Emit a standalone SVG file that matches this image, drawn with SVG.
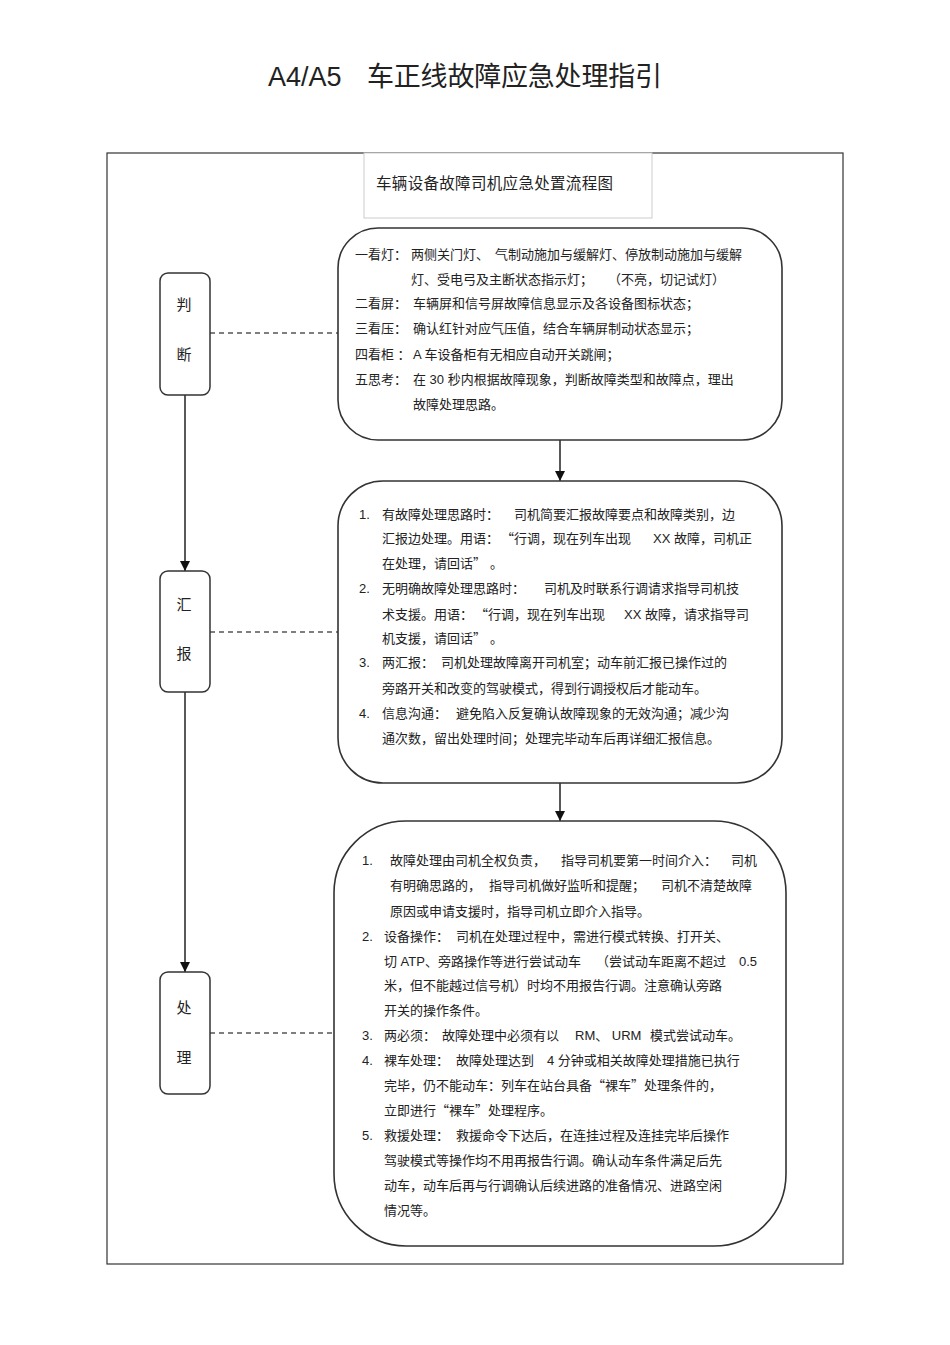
<svg xmlns="http://www.w3.org/2000/svg" width="950" height="1345" viewBox="0 0 950 1345">
<defs>
<marker id="arr" viewBox="0 0 10 10" refX="10" refY="5" markerWidth="10" markerHeight="10" markerUnits="userSpaceOnUse" orient="auto">
<path d="M0,0 L10,5 L0,10 z" fill="#111"/>
</marker>
</defs>
<style>
text{font-family:"Liberation Sans","Noto Sans CJK SC",sans-serif;fill:#222}
.q{font-family:"Noto Sans CJK SC",sans-serif}
.t{font-size:13px}
.n{font-size:15px}
.box{fill:#fff;stroke:#333;stroke-width:1.6}
.lbl{fill:#fff;stroke:#333;stroke-width:1.5}
.dash{stroke:#555;stroke-width:1.5;stroke-dasharray:5,4;fill:none}
.line{stroke:#222;stroke-width:1.5;fill:none}
</style>
<rect width="950" height="1345" fill="#fff"/>
<g id="title">
<text x="268" y="86" font-size="27">A4/A5</text>
<text x="367" y="86" font-size="27" textLength="295" lengthAdjust="spacing">车正线故障应急处理指引</text>
</g>
<rect id="frame" x="107" y="153" width="736" height="1111" fill="none" stroke="#333" stroke-width="1.2"/>
<g id="header">
<rect x="364" y="153" width="288" height="65" fill="#fff" stroke="#ccc" stroke-width="1"/>
<text x="376" y="189" font-size="15.5" textLength="237" lengthAdjust="spacing">车辆设备故障司机应急处置流程图</text>
</g>
<g id="connectors">
<line class="line" x1="185" y1="395" x2="185" y2="571" marker-end="url(#arr)"/>
<line class="line" x1="185" y1="692" x2="185" y2="972" marker-end="url(#arr)"/>
<line class="line" x1="560" y1="440" x2="560" y2="481" marker-end="url(#arr)"/>
<line class="line" x1="560" y1="783" x2="560" y2="821" marker-end="url(#arr)"/>
<line class="dash" x1="210" y1="333" x2="338" y2="333"/>
<line class="dash" x1="210" y1="632" x2="338" y2="632"/>
<line class="dash" x1="210" y1="1033" x2="334" y2="1033"/>
</g>
<g id="node-judge">
<rect class="lbl" x="160" y="273" width="50" height="122" rx="8"/>
<text class="n" x="184" y="310" text-anchor="middle">判</text>
<text class="n" x="184" y="360" text-anchor="middle">断</text>
</g>
<g id="node-report">
<rect class="lbl" x="160" y="571" width="50" height="121" rx="8"/>
<text class="n" x="184" y="610" text-anchor="middle">汇</text>
<text class="n" x="184" y="659" text-anchor="middle">报</text>
</g>
<g id="node-handle">
<rect class="lbl" x="160" y="972" width="50" height="122" rx="8"/>
<text class="n" x="184" y="1013" text-anchor="middle">处</text>
<text class="n" x="184" y="1063" text-anchor="middle">理</text>
</g>
<g id="box-judge">
<rect class="box" x="338" y="228" width="444" height="212" rx="40"/>
<text class="t" x="355" y="259">一看灯：</text>
<text class="t" x="411" y="259">两侧关门灯、</text>
<text class="t" x="495" y="259">气制动施加与缓解灯、停放制动施加与缓解</text>
<text class="t" x="411" y="284">灯、受电弓及主断状态指示灯；</text>
<text class="t" x="608" y="284">（不亮，切记试灯）</text>
<text class="t" x="355" y="308">二看屏：</text>
<text class="t" x="413" y="308">车辆屏和信号屏故障信息显示及各设备图标状态；</text>
<text class="t" x="355" y="333">三看压：</text>
<text class="t" x="413" y="333">确认红针对应气压值，结合车辆屏制动状态显示；</text>
<text class="t" x="355" y="359">四看柜 ：</text>
<text class="t" x="413" y="359">A 车设备柜有无相应自动开关跳闸；</text>
<text class="t" x="355" y="384">五思考：</text>
<text class="t" x="413" y="384">在 30 秒内根据故障现象，判断故障类型和故障点，理出</text>
<text class="t" x="413" y="409">故障处理思路。</text>
</g>
<g id="box-report">
<rect class="box" x="338" y="481" width="444" height="302" rx="45"/>
<text class="t" x="359" y="519">1.</text>
<text class="t" x="382" y="519">有故障处理思路时：</text>
<text class="t" x="514" y="519">司机简要汇报故障要点和故障类别，边</text>
<text class="t" x="382" y="543">汇报边处理。用语：</text>
<text class="t" x="501" y="543"><tspan class="q">“</tspan>行调，现在列车出现</text>
<text class="t" x="653" y="543">XX 故障，司机正</text>
<text class="t" x="382" y="568">在处理，请回话<tspan class="q">”</tspan></text>
<text class="t" x="490" y="568">。</text>
<text class="t" x="359" y="593">2.</text>
<text class="t" x="382" y="593">无明确故障处理思路时：</text>
<text class="t" x="544" y="593">司机及时联系行调请求指导司机技</text>
<text class="t" x="382" y="619">术支援。用语：</text>
<text class="t" x="475" y="619"><tspan class="q">“</tspan>行调，现在列车出现</text>
<text class="t" x="624" y="619">XX 故障，请求指导司</text>
<text class="t" x="382" y="643">机支援，请回话<tspan class="q">”</tspan></text>
<text class="t" x="490" y="643">。</text>
<text class="t" x="359" y="667">3.</text>
<text class="t" x="382" y="667">两汇报：</text>
<text class="t" x="441" y="667">司机处理故障离开司机室；动车前汇报已操作过的</text>
<text class="t" x="382" y="693">旁路开关和改变的驾驶模式，得到行调授权后才能动车。</text>
<text class="t" x="359" y="718">4.</text>
<text class="t" x="382" y="718">信息沟通：</text>
<text class="t" x="456" y="718">避免陷入反复确认故障现象的无效沟通；减少沟</text>
<text class="t" x="382" y="743">通次数，留出处理时间；处理完毕动车后再详细汇报信息。</text>
</g>
<g id="box-handle">
<rect class="box" x="334" y="821" width="452" height="425" rx="72"/>
<text class="t" x="362" y="865">1.</text>
<text class="t" x="390" y="865">故障处理由司机全权负责，</text>
<text class="t" x="561" y="865">指导司机要第一时间介入：</text>
<text class="t" x="731" y="865">司机</text>
<text class="t" x="390" y="890">有明确思路的，</text>
<text class="t" x="489" y="890">指导司机做好监听和提醒；</text>
<text class="t" x="661" y="890">司机不清楚故障</text>
<text class="t" x="390" y="916">原因或申请支援时，指导司机立即介入指导。</text>
<text class="t" x="362" y="941">2.</text>
<text class="t" x="384" y="941">设备操作：</text>
<text class="t" x="456" y="941">司机在处理过程中，需进行模式转换、打开关、</text>
<text class="t" x="384" y="966">切 ATP、旁路操作等进行尝试动车</text>
<text class="t" x="596" y="966">（尝试动车距离不超过</text>
<text class="t" x="739" y="966">0.5</text>
<text class="t" x="384" y="990">米，但不能越过信号机）时均不用报告行调。注意确认旁路</text>
<text class="t" x="384" y="1015">开关的操作条件。</text>
<text class="t" x="362" y="1040">3.</text>
<text class="t" x="384" y="1040">两必须：</text>
<text class="t" x="442" y="1040">故障处理中必须有以</text>
<text class="t" x="575" y="1040">RM、 URM</text>
<text class="t" x="650" y="1040">模式尝试动车。</text>
<text class="t" x="362" y="1065">4.</text>
<text class="t" x="384" y="1065">裸车处理：</text>
<text class="t" x="456" y="1065">故障处理达到</text>
<text class="t" x="547" y="1065">4 分钟或相关故障处理措施已执行</text>
<text class="t" x="384" y="1090">完毕，仍不能动车：列车在站台具备<tspan class="q">“</tspan>裸车<tspan class="q">”</tspan>处理条件的，</text>
<text class="t" x="384" y="1115">立即进行<tspan class="q">“</tspan>裸车<tspan class="q">”</tspan>处理程序。</text>
<text class="t" x="362" y="1140">5.</text>
<text class="t" x="384" y="1140">救援处理：</text>
<text class="t" x="456" y="1140">救援命令下达后，在连挂过程及连挂完毕后操作</text>
<text class="t" x="384" y="1165">驾驶模式等操作均不用再报告行调。确认动车条件满足后先</text>
<text class="t" x="384" y="1190">动车，动车后再与行调确认后续进路的准备情况、进路空闲</text>
<text class="t" x="384" y="1215">情况等。</text>
</g>
</svg>
